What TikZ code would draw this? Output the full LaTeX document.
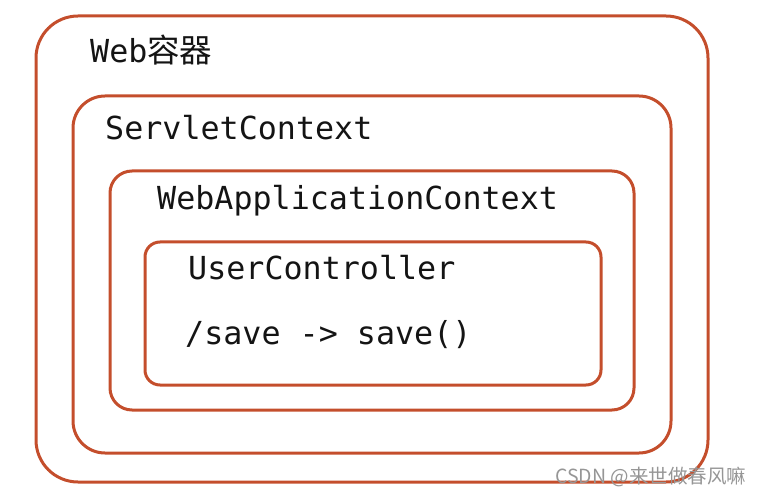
\documentclass[tikz,border=0pt]{standalone}
\usepackage{fontspec}
\setmonofont{DejaVu Sans Mono}
\newfontfamily\cjk{Noto Sans CJK SC}
\definecolor{boxred}{RGB}{196,78,44}
\definecolor{wmgray}{RGB}{150,150,150}
\tikzset{
  frame/.style={draw=boxred, line width=3pt},
  label/.style={anchor=base west, inner sep=0pt, font=\fontsize{31.7}{31.7}\selectfont\ttfamily, text=black!92},
}
\begin{document}
\begin{tikzpicture}[x=1pt,y=1pt]
\useasboundingbox (0,0) rectangle (763,496);
\draw[frame, rounded corners=42pt] (36,14) rectangle (708,480);
\draw[frame, rounded corners=32pt] (73,43) rectangle (671,400);
\draw[frame, rounded corners=22pt] (110,86) rectangle (634,325);
\draw[frame, rounded corners=15pt] (145,111) rectangle (601,254);
\node[label] (web) at (90,433) {Web{\cjk\fontsize{32.5}{32.5}\selectfont 容器}};
\node[label] (sc) at (105,356) {ServletContext};
\node[label] (wac) at (157,286) {WebApplicationContext};
\node[label] (uc) at (188,216) {UserController};
\node[label] (map) at (185,152) {/save -> save()};
\node[anchor=base west, inner sep=0pt, font=\cjk\fontsize{19.5}{19.5}\selectfont, text=wmgray] (wm) at (555,13) {CSDN @来世做春风嘛};
\end{tikzpicture}
\end{document}
